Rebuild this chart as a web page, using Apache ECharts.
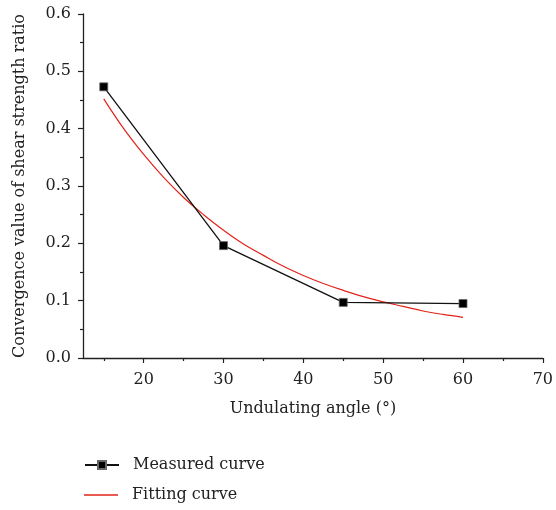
<!DOCTYPE html>
<html><head><meta charset="utf-8">
<script src="https://cdn.jsdelivr.net/npm/echarts@6/dist/echarts.min.js"></script>
<style>html,body{margin:0;padding:0;background:#fff}#c{width:556px;height:510px}</style>
</head><body><div id="c"></div>
<script>
var xMajorTicks = [20, 30, 40, 50, 60, 70];
var xMinorTicks = [15, 25, 35, 45, 55, 65];
var measuredX = [15, 30, 45, 60];
var measuredY = [0.473, 0.196, 0.097, 0.095];
var fitX = [15, 17.5, 20, 22.5, 25, 27.5, 30, 32.5, 35, 37.5, 40, 42.5, 45, 47.5, 50, 52.5, 55, 57.5, 60];
var fitY = [0.452, 0.400, 0.355, 0.315, 0.280, 0.250, 0.223, 0.199, 0.179, 0.160, 0.144, 0.130, 0.118, 0.107, 0.098, 0.090, 0.082, 0.076, 0.071];
var seriesNames = ['Measured curve', 'Fitting curve'];
var xTitle = 'Undulating angle (°)';
var yTitle = 'Convergence value of shear strength ratio';

var FONT = 'DejaVu Serif';
var FS = 16;
var AX = '#222';
function pairs(xs, ys){ return xs.map(function(x,i){return [x, ys[i]];}); }
var legendText = {fontFamily: FONT, fontSize: FS, color: '#222', padding: [0,0,0,9]};
var chart = echarts.init(document.getElementById('c'));
chart.setOption({
  animation: false,
  textStyle: {fontFamily: FONT},
  grid: {left: 83, right: 10, top: 14, bottom: 152, containLabel: false},
  legend: [{
    orient: 'vertical', left: 84, top: 457, height: 20, padding: 0, itemWidth: 34, itemHeight: 10,
    textStyle: legendText,
    data: [seriesNames[0]]
  },{
    orient: 'vertical', left: 84, top: 487, height: 20, padding: 0, itemWidth: 34, itemHeight: 1.3,
    textStyle: legendText,
    data: [{name: seriesNames[1], icon: 'rect'}]
  }],
  xAxis: [{
    type: 'value', min: 12.4, max: 70,
    name: xTitle, nameLocation: 'middle', nameGap: 43,
    nameTextStyle: {fontFamily: FONT, fontSize: FS, color: '#222'},
    axisLine: {lineStyle: {color: AX, width: 1.3}},
    axisTick: {show: true, inside: false, length: 5, customValues: xMajorTicks, lineStyle: {color: AX, width: 1.2}},
    axisLabel: {customValues: xMajorTicks, margin: 14, fontFamily: FONT, fontSize: FS, color: '#222'},
    splitLine: {show: false}
  },{
    type: 'value', min: 12.4, max: 70, position: 'bottom',
    axisLine: {show: false},
    axisTick: {show: true, length: 3, customValues: xMinorTicks, lineStyle: {color: AX, width: 1.2}},
    axisLabel: {show: false},
    splitLine: {show: false}
  }],
  yAxis: {
    type: 'value', min: 0, max: 0.6, interval: 0.1,
    name: yTitle, nameLocation: 'middle', nameGap: 55, nameRotate: 90,
    nameTextStyle: {fontFamily: FONT, fontSize: FS, color: '#222'},
    axisLine: {show: true, lineStyle: {color: AX, width: 1.3}},
    axisTick: {show: true, length: 5, lineStyle: {color: AX, width: 1.2}},
    minorTick: {show: true, splitNumber: 2, length: 3, lineStyle: {color: AX, width: 1.2}},
    axisLabel: {margin: 12, fontFamily: FONT, fontSize: FS, color: '#222', formatter: function(v){return v.toFixed(1);}},
    splitLine: {show: false}
  },
  series: [{
    name: seriesNames[0], type: 'line', data: pairs(measuredX, measuredY),
    symbol: 'rect', symbolSize: 8, showSymbol: true,
    lineStyle: {color: '#111', width: 1.3},
    itemStyle: {color: '#000', borderColor: '#666', borderWidth: 0.8},
    z: 3
  },{
    name: seriesNames[1], type: 'line', data: pairs(fitX, fitY),
    smooth: 0.4, symbol: 'none', showSymbol: false,
    lineStyle: {color: '#e2231a', width: 1.2},
    itemStyle: {color: '#e2231a'},
    z: 2
  }]
});
</script></body></html>
